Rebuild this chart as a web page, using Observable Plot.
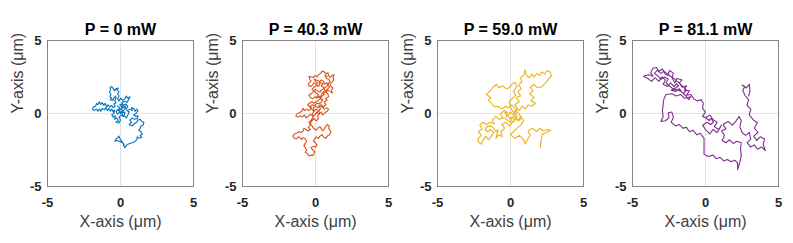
<!DOCTYPE html>
<html><head><meta charset="utf-8">
<script src="https://cdn.jsdelivr.net/npm/d3@7"></script>
<script src="https://cdn.jsdelivr.net/npm/@observablehq/plot@0.6"></script>
<style>
body{margin:0;background:#fff;}
#row{display:flex;width:793px;height:243px;}
#row svg{display:block;flex:none;}
</style></head><body><div id="row"></div>
<script>
const titles = ["P = 0 mW", "P = 40.3 mW", "P = 59.0 mW", "P = 81.1 mW"];
const tickValues = [-5, 0, 5];
const xLabel = "X-axis (μm)";
const yLabel = "Y-axis (μm)";

const traj0 = [[-0.2,0.5],[-0.05,0.4],[-0.15,0.2],[0.0,0.25],[0.1,0.45],[-0.05,0.6],[0.1,0.65],[0.2,0.4],[0.35,0.5],[0.3,0.3],[0.15,0.15],[-0.05,0.1],[-0.2,-0.05],[-0.3,0.15],[-0.15,0.3],[0.0,0.0],[0.15,0.2],[0.05,0.35],[0.25,0.45],[0.4,0.3],[0.5,0.5],[0.35,0.65],[0.2,0.55],[0.1,0.75],[0.3,0.85],[0.45,0.75],[0.55,0.95],[0.65,1.15],[0.5,1.05],[0.4,1.2],[0.3,1.0],[0.15,0.9],[0.0,1.05],[-0.1,0.85],[-0.2,1.0],[-0.1,1.2],[-0.2,1.35],[-0.1,1.5],[-0.25,1.6],[-0.15,1.75],[-0.3,1.7],[-0.4,1.55],[-0.5,1.7],[-0.6,1.85],[-0.72,1.78],[-0.68,1.6],[-0.75,1.45],[-0.65,1.3],[-0.72,1.15],[-0.6,1.05],[-0.7,0.95],[-0.55,0.9],[-0.45,1.05],[-0.35,1.2],[-0.3,1.05],[-0.4,0.9],[-0.3,0.75],[-0.45,0.65],[-0.35,0.5],[-0.5,0.4],[-0.6,0.55],[-0.75,0.45],[-0.85,0.6],[-0.95,0.45],[-1.05,0.7],[-1.15,0.55],[-1.25,0.75],[-1.35,0.6],[-1.45,0.8],[-1.55,0.6],[-1.65,0.7],[-1.7,0.5],[-1.85,0.45],[-1.92,0.3],[-1.8,0.2],[-1.65,0.3],[-1.55,0.15],[-1.45,0.3],[-1.35,0.15],[-1.25,0.35],[-1.1,0.25],[-1.0,0.4],[-0.9,0.2],[-0.8,0.35],[-0.7,0.15],[-0.6,0.3],[-0.5,0.1],[-0.4,0.25],[-0.45,0.0],[-0.6,-0.1],[-0.5,-0.25],[-0.35,-0.15],[-0.4,-0.4],[-0.25,-0.3],[-0.15,-0.5],[-0.3,-0.6],[-0.1,-0.65],[0.0,-0.45],[-0.1,-0.25],[0.05,-0.1],[0.2,-0.2],[0.1,0.05],[0.3,0.1],[0.25,-0.15],[0.4,-0.3],[0.5,-0.1],[0.6,0.1],[0.45,0.2],[0.65,0.3],[0.8,0.2],[0.75,0.4],[0.9,0.35],[1.0,0.15],[1.1,0.3],[1.2,0.2],[1.05,0.0],[0.9,-0.1],[1.05,-0.2],[1.2,-0.15],[1.15,-0.35],[0.95,-0.4],[0.8,-0.3],[0.65,-0.45],[0.75,-0.6],[0.6,-0.75],[0.8,-0.85],[0.95,-0.7],[1.1,-0.6],[1.2,-0.45],[1.35,-0.4],[1.45,-0.55],[1.6,-0.6],[1.55,-0.8],[1.4,-0.85],[1.35,-1.0],[1.25,-1.15],[1.4,-1.25],[1.5,-1.4],[1.35,-1.5],[1.45,-1.65],[1.3,-1.7],[1.15,-1.6],[1.1,-1.8],[0.95,-1.95],[0.8,-2.0],[0.65,-2.05],[0.5,-2.1],[0.4,-2.2],[0.3,-2.35],[0.22,-2.2],[0.2,-2.05],[0.05,-1.95],[-0.1,-1.9],[-0.25,-1.85],[-0.4,-1.9],[-0.3,-1.75],[-0.2,-1.65],[-0.1,-1.55],[-0.05,-1.7],[0.05,-1.85],[0.15,-2.0],[0.25,-2.15]];

const traj1 = [[0.0,0.0],[0.2,0.15],[0.35,0.35],[0.2,0.5],[0.4,0.6],[0.55,0.45],[0.7,0.6],[0.6,0.8],[0.8,0.9],[0.7,1.05],[0.9,1.15],[0.85,1.35],[0.7,1.45],[0.85,1.6],[1.0,1.5],[1.15,1.4],[1.1,1.6],[1.2,1.75],[1.05,1.85],[1.0,2.05],[1.15,2.15],[1.25,2.3],[1.2,2.5],[1.28,2.65],[1.1,2.6],[1.0,2.45],[0.9,2.6],[0.85,2.8],[0.7,2.7],[0.6,2.85],[0.45,2.9],[0.35,2.75],[0.2,2.65],[0.1,2.5],[-0.05,2.6],[-0.15,2.45],[-0.3,2.5],[-0.45,2.55],[-0.4,2.35],[-0.3,2.2],[-0.45,2.1],[-0.5,1.95],[-0.35,1.85],[-0.2,1.95],[-0.1,2.1],[0.05,2.0],[0.15,1.85],[0.3,1.95],[0.25,2.15],[0.4,2.3],[0.55,2.2],[0.6,2.0],[0.75,2.1],[0.85,1.95],[0.7,1.8],[0.55,1.7],[0.4,1.6],[0.3,1.45],[0.15,1.55],[0.0,1.65],[-0.15,1.5],[-0.3,1.35],[-0.45,1.25],[-0.35,1.1],[-0.2,1.0],[-0.05,1.15],[0.1,1.05],[0.25,1.2],[0.35,1.05],[0.2,0.9],[0.05,0.8],[-0.1,0.7],[-0.25,0.8],[-0.4,0.7],[-0.55,0.6],[-0.4,0.45],[-0.3,0.3],[-0.45,0.2],[-0.6,0.3],[-0.75,0.2],[-0.85,0.35],[-0.95,0.15],[-1.1,0.05],[-1.25,0.0],[-1.35,-0.15],[-1.2,-0.25],[-1.05,-0.15],[-0.9,-0.25],[-0.75,-0.1],[-0.65,-0.3],[-0.5,-0.2],[-0.35,-0.05],[-0.2,-0.2],[-0.05,-0.1],[0.1,0.05],[0.25,-0.05],[0.4,0.1],[0.5,-0.1],[0.65,0.05],[0.8,0.15],[0.9,0.3],[0.75,0.4],[0.6,0.3],[0.45,0.45],[0.3,0.55],[0.15,0.4],[0.0,0.5],[-0.15,0.4],[-0.1,0.2],[-0.2,0.0],[-0.15,-0.25],[-0.3,-0.45],[-0.45,-0.6],[-0.35,-0.8],[-0.5,-0.95],[-0.35,-1.1],[-0.5,-1.2],[-0.65,-1.1],[-0.8,-1.0],[-0.85,-1.2],[-1.0,-1.3],[-1.15,-1.25],[-1.3,-1.35],[-1.45,-1.4],[-1.55,-1.55],[-1.45,-1.7],[-1.3,-1.75],[-1.2,-1.6],[-1.05,-1.65],[-0.95,-1.8],[-0.85,-1.65],[-0.7,-1.75],[-0.6,-1.9],[-0.7,-2.05],[-0.8,-2.2],[-0.7,-2.35],[-0.6,-2.5],[-0.7,-2.65],[-0.55,-2.75],[-0.45,-2.9],[-0.3,-2.85],[-0.2,-2.9],[-0.1,-2.75],[-0.05,-2.6],[-0.2,-2.5],[-0.3,-2.35],[-0.15,-2.25],[0.0,-2.3],[0.1,-2.15],[0.0,-2.0],[-0.15,-1.9],[-0.05,-1.75],[0.05,-1.6],[0.2,-1.7],[0.3,-1.55],[0.45,-1.45],[0.55,-1.6],[0.7,-1.7],[0.8,-1.55],[0.95,-1.45],[1.05,-1.3],[1.0,-1.15],[0.9,-1.0],[0.95,-0.85],[0.8,-0.75],[0.7,-0.9],[0.6,-1.05],[0.5,-1.2],[0.4,-1.05],[0.3,-0.9],[0.15,-1.0],[0.05,-1.15],[-0.1,-1.05],[-0.2,-0.9],[-0.35,-0.7],[-0.25,-0.5],[-0.1,-0.35],[0.05,-0.5],[0.2,-0.35],[0.15,-0.15],[0.3,0.0],[0.2,0.2],[0.05,0.3],[-0.1,0.15],[-0.25,0.3],[-0.35,0.5],[-0.2,0.6],[-0.05,0.55],[0.1,0.7],[0.25,0.65],[0.4,0.8],[0.5,0.95],[0.35,1.0],[0.45,1.2],[0.6,1.3],[0.5,1.45],[0.65,1.6],[0.55,1.8],[0.4,1.9],[0.5,2.05],[0.35,2.1],[0.2,2.25],[0.05,2.3],[-0.1,2.35],[0.0,2.2],[0.15,2.1],[0.05,1.9],[-0.1,1.8],[-0.25,1.65],[-0.1,1.55],[0.05,1.4],[0.2,1.3],[0.1,1.15],[0.3,1.1],[0.45,1.35],[0.65,1.45],[0.8,1.65],[0.95,1.8],[0.85,2.05],[1.0,2.2],[0.9,2.35],[0.75,2.4],[0.65,2.6],[0.8,2.55]];

const traj2 = [[0.2,0.1],[0.5,0.3],[0.3,0.6],[0.6,0.8],[0.4,1.1],[0.7,1.2],[0.5,1.5],[0.75,1.7],[0.55,1.95],[0.8,2.2],[0.65,2.45],[0.9,2.6],[1.0,3.0],[1.1,2.6],[1.3,2.45],[1.45,2.7],[1.6,2.5],[1.8,2.75],[2.0,2.6],[2.15,2.85],[2.35,2.7],[2.5,2.95],[2.7,2.85],[2.8,2.6],[2.45,2.15],[2.1,1.8],[1.8,1.8],[1.6,2.0],[1.35,1.8],[1.55,1.55],[1.3,1.35],[1.6,1.1],[1.4,0.85],[1.7,0.7],[1.45,0.5],[1.2,0.6],[1.05,0.3],[0.8,0.5],[0.6,0.2],[0.3,0.35],[0.1,0.6],[-0.1,0.4],[-0.35,0.5],[-0.6,0.3],[-0.85,0.5],[-1.1,0.45],[-1.3,0.7],[-1.5,0.9],[-1.35,1.1],[-1.65,1.3],[-1.4,1.55],[-1.2,1.8],[-0.95,2.0],[-0.8,1.75],[-0.55,1.9],[-0.3,1.7],[-0.1,1.75],[0.1,2.0],[0.3,2.15],[0.45,1.85],[0.2,1.55],[0.35,1.25],[0.1,1.0],[-0.1,0.8],[0.05,0.3],[0.25,0.05],[0.45,-0.15],[0.3,-0.35],[0.55,-0.5],[0.75,-0.3],[0.6,-0.05],[0.4,0.15],[0.2,-0.1],[0.0,0.1],[-0.2,-0.15],[-0.05,-0.35],[0.15,-0.25],[0.3,-0.5],[0.1,-0.65],[-0.15,-0.5],[-0.35,-0.35],[-0.25,-0.1],[-0.4,0.05],[-0.2,0.05],[-0.45,0.2],[-0.7,-0.05],[-0.5,-0.3],[-0.8,-0.4],[-1.0,-0.2],[-1.25,-0.45],[-1.1,-0.7],[-1.4,-0.6],[-1.65,-0.75],[-1.9,-0.6],[-2.1,-0.8],[-1.95,-1.05],[-2.2,-1.25],[-2.0,-1.5],[-2.25,-1.75],[-2.15,-2.0],[-2.0,-2.1],[-1.9,-1.85],[-1.7,-1.55],[-1.5,-1.8],[-1.3,-1.55],[-1.15,-1.3],[-1.35,-1.1],[-1.55,-1.25],[-1.75,-1.1],[-1.6,-0.9],[-1.35,-0.85],[-1.15,-1.0],[-1.0,-1.25],[-0.85,-1.1],[-1.0,-1.7],[-0.8,-1.45],[-0.55,-1.6],[-0.65,-1.25],[-0.4,-1.0],[-0.6,-0.75],[-0.3,-0.6],[-0.1,-0.85],[0.15,-0.6],[0.0,-0.3],[0.3,-0.15],[0.5,-0.45],[0.7,-0.2],[0.9,-0.5],[0.7,-0.8],[0.45,-1.0],[0.2,-1.25],[0.0,-1.45],[0.3,-1.7],[0.6,-1.5],[0.9,-1.8],[1.0,-2.1],[1.15,-1.8],[1.35,-1.5],[1.2,-1.2],[1.5,-1.0],[1.8,-1.25],[2.0,-1.0],[2.25,-1.2],[2.5,-1.1],[2.75,-1.15],[2.45,-1.3],[2.2,-1.4],[2.1,-1.8],[2.05,-2.3]];

const traj3 = [[0.3,-0.5],[0.0,-0.3],[0.3,-0.1],[0.5,-0.4],[0.8,-0.6],[0.6,-0.9],[0.9,-1.1],[1.1,-0.8],[0.8,-1.3],[0.5,-1.1],[0.3,-1.4],[0.0,-1.1],[-0.2,-0.8],[0.1,-0.6],[0.35,-0.75],[0.55,-0.6],[0.4,-0.35],[0.2,-0.45],[0.05,-0.3],[-0.2,-0.2],[0.0,0.1],[-0.2,0.35],[-0.15,0.7],[-0.3,0.95],[-0.55,0.85],[-0.8,1.0],[-1.0,1.3],[-1.3,1.25],[-1.1,1.55],[-1.45,1.6],[-1.3,1.9],[-1.6,1.8],[-1.8,2.1],[-1.6,2.3],[-1.95,2.4],[-2.1,2.1],[-2.3,2.45],[-2.2,2.75],[-2.45,2.95],[-2.6,2.6],[-2.8,2.75],[-2.95,3.05],[-3.2,2.9],[-3.35,3.15],[-3.6,3.1],[-3.75,2.8],[-3.6,2.55],[-3.9,2.65],[-4.25,2.55],[-3.95,2.4],[-3.7,2.2],[-3.45,2.45],[-3.2,2.2],[-3.0,2.5],[-2.75,2.3],[-2.9,2.0],[-2.6,1.85],[-2.4,2.1],[-2.15,1.85],[-2.0,2.05],[-1.85,1.9],[-2.05,1.75],[-2.25,1.7],[-2.5,1.9],[-2.7,2.1],[-2.55,2.35],[-2.8,2.5],[-3.05,2.35],[-3.3,2.6],[-3.5,2.75],[-3.3,2.95],[-3.05,2.75],[-2.85,2.9],[-2.65,2.75],[-2.4,2.55],[-2.15,2.4],[-1.95,2.2],[-1.7,2.0],[-1.5,1.8],[-1.3,1.6],[-1.5,1.4],[-1.75,1.55],[-2.0,1.65],[-2.35,1.6],[-2.05,1.5],[-1.8,1.7],[-1.6,1.45],[-1.35,1.2],[-1.15,0.95],[-1.0,1.15],[-1.45,1.05],[-1.7,1.3],[-2.0,1.2],[-2.3,1.35],[-2.7,1.3],[-2.85,1.0],[-2.9,0.6],[-2.95,0.2],[-2.9,-0.2],[-3.05,-0.55],[-2.75,-0.5],[-2.5,-0.3],[-2.55,0.05],[-2.3,0.1],[-2.2,-0.25],[-2.35,-0.6],[-2.05,-0.85],[-1.8,-0.75],[-1.55,-1.0],[-1.3,-0.95],[-1.1,-1.25],[-0.85,-1.15],[-0.6,-1.45],[-0.35,-1.35],[-0.1,-1.7],[-0.1,-2.2],[-0.1,-2.8],[0.2,-2.95],[0.5,-2.85],[0.75,-3.1],[1.0,-3.0],[1.25,-3.25],[1.5,-3.15],[1.75,-3.3],[2.0,-3.2],[2.2,-3.4],[2.2,-3.85],[2.35,-3.35],[2.45,-2.9],[2.4,-2.4],[2.45,-2.0],[2.15,-1.9],[1.9,-2.05],[1.65,-1.8],[1.4,-2.0],[1.15,-1.85],[1.3,-1.5],[1.1,-1.2],[1.4,-1.05],[1.2,-0.75],[1.55,-0.55],[1.85,-0.8],[2.1,-0.5],[2.3,-0.2],[2.45,-0.5],[2.35,-0.9],[2.5,-1.3],[2.75,-1.5],[3.0,-1.3],[3.1,-1.75],[2.85,-2.0],[3.1,-2.3],[3.35,-2.15],[3.55,-2.45],[3.85,-2.3],[4.1,-2.55],[3.95,-2.1],[4.05,-1.75],[3.75,-1.6],[3.5,-1.85],[3.3,-1.55],[3.6,-1.3],[3.35,-1.0],[3.55,-0.65],[3.25,-0.4],[3.0,-0.1],[3.1,0.3],[2.85,0.55],[2.95,0.95],[2.7,1.25],[2.55,1.6],[2.7,1.85],[2.5,1.95],[2.8,1.75],[3.0,2.0],[3.05,1.55],[2.95,1.2]];

const trajectories = [traj0, traj1, traj2, traj3];
const colors = ["#0072BD", "#D95319", "#EDB120", "#7E2F8E"];
const font = "'Liberation Sans', Arial, Helvetica, sans-serif";

trajectories.forEach((traj, i) => {
  const rows = traj.map(([x, y]) => ({x, y}));
  const chart = Plot.plot({
    width: 195, height: 243,
    marginLeft: 47, marginRight: 2, marginTop: 40, marginBottom: 57,
    style: {fontFamily: font, background: "none", overflow: "visible"},
    x: {domain: [-5, 5]},
    y: {domain: [-5, 5]},
    marks: [
      Plot.ruleX([0], {stroke: "#e3e3e3", strokeWidth: 1}),
      Plot.ruleY([0], {stroke: "#e3e3e3", strokeWidth: 1}),
      Plot.line(rows, {x: "x", y: "y", stroke: colors[i], strokeWidth: 1.1}),
      Plot.frame({stroke: "#858585", strokeWidth: 1}),
      Plot.axisX(tickValues, {tickSize: 0, tickPadding: 11, tickFormat: d => String(d), fontSize: 13, fontWeight: "bold", color: "#262626", label: null}),
      Plot.axisY(tickValues, {tickSize: 0, tickPadding: 6, tickFormat: d => String(d), fontSize: 13, fontWeight: "bold", color: "#262626", label: null}),
      Plot.text([titles[i]], {text: d => d, frameAnchor: "top", lineAnchor: "middle", dy: -11, fontSize: 16, fontWeight: "bold", fill: "#000"}),
      Plot.text([xLabel], {text: d => d, frameAnchor: "bottom", lineAnchor: "middle", dy: 35, fontSize: 16, fill: "#404040"}),
      Plot.text([yLabel], {text: d => d, frameAnchor: "left", lineAnchor: "middle", dx: -30, rotate: -90, fontSize: 16, fill: "#404040"})
    ]
  });
  document.getElementById("row").appendChild(chart);
});
</script></body></html>
